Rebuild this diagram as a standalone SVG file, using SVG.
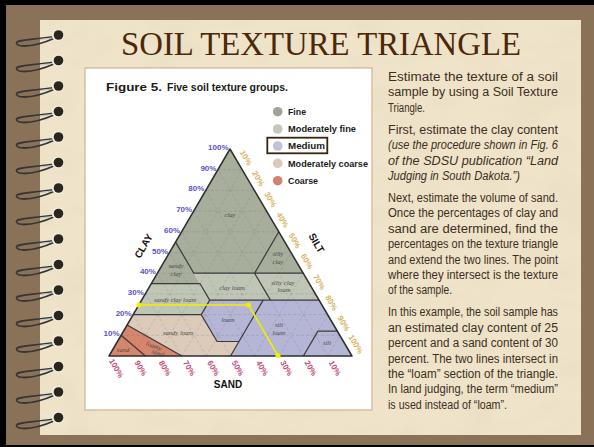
<svg xmlns="http://www.w3.org/2000/svg" xmlns:xlink="http://www.w3.org/1999/xlink" width="594" height="447" viewBox="0 0 594 447">
<style>
.body{font-family:"Liberation Sans","Arial",sans-serif;font-size:12.5px;fill:#3c2e22}
.it{font-style:italic}
.reg{font-family:"Liberation Serif","Times New Roman",serif;font-style:italic;font-size:6.5px;fill:#4a4a4a;text-anchor:middle}
.cl{font-family:"Liberation Sans",sans-serif;font-weight:bold;font-size:8px;fill:#5b52c8;text-anchor:end}
.sd{font-family:"Liberation Sans",sans-serif;font-weight:bold;font-size:8px;fill:#c24c7a;text-anchor:middle}
.si{font-family:"Liberation Sans",sans-serif;font-weight:bold;font-size:8px;fill:#d9b25e;text-anchor:middle}
.ax{font-family:"Liberation Sans",sans-serif;font-weight:bold;font-size:10px;fill:#111;text-anchor:middle}
.lg{font-family:"Liberation Sans",sans-serif;font-weight:bold;font-size:9.5px;fill:#1a1a1a}
.bd{stroke:#3a3a3a;stroke-width:1.2;stroke-linejoin:round}
.fine{fill:#a7ae9c}.mfine{fill:#c0c6b6}.med{fill:#b5b5d5}.mcoarse{fill:#dccbbb}.coarse{fill:#d5866c}
.grid{stroke:#6d6d6d;stroke-opacity:0.4;stroke-width:0.6;stroke-dasharray:3 2;fill:none}
.yl{stroke:#f2ee00;stroke-width:1.6;fill:none}
</style>
<defs>
<filter id="paper" x="0" y="0" width="100%" height="100%">
<feTurbulence type="fractalNoise" baseFrequency="0.02 0.035" numOctaves="3" seed="4"/>
<feColorMatrix type="matrix" values="0 0 0 0 0.80  0 0 0 0 0.70  0 0 0 0 0.52  1.3 0 0 0 -0.55"/>
</filter>
<g id="ring">
<path d="M -4 2 C -14 3, -28 4, -38 6 C -44 7, -42 11, -34 11 C -24 11, -12 7, -3 3" fill="none" stroke="#363636" stroke-width="1.8"/>
<path d="M -3 2.5 C -9 3.5, -14 4, -18 4.5" fill="none" stroke="#b9c9d2" stroke-width="1.2"/>
<circle cx="0" cy="0" r="6.2" fill="#f3ecd8"/>
<circle cx="0.5" cy="0" r="4.8" fill="#2a2520"/>
</g>
</defs>

<g id="frame">
<rect x="0" y="0" width="594" height="447" fill="#8a7259"/>
<rect x="0" y="0" width="594" height="5" fill="#000"/>
<rect x="0" y="0" width="6" height="447" fill="#000"/>
<rect x="0" y="445" width="594" height="2" fill="#000"/>
<rect x="40" y="20" width="541" height="415" fill="#efe4ca"/>
<rect x="40" y="20" width="541" height="415" fill="#000" filter="url(#paper)"/>
</g>

<g id="rings" transform="translate(58,0)">
<use xlink:href="#ring" y="35"/><use xlink:href="#ring" y="60.5"/><use xlink:href="#ring" y="86"/><use xlink:href="#ring" y="111.5"/>
<use xlink:href="#ring" y="137"/><use xlink:href="#ring" y="162.5"/><use xlink:href="#ring" y="188"/><use xlink:href="#ring" y="213.5"/>
<use xlink:href="#ring" y="239"/><use xlink:href="#ring" y="264.5"/><use xlink:href="#ring" y="290"/><use xlink:href="#ring" y="315.5"/>
<use xlink:href="#ring" y="341"/><use xlink:href="#ring" y="366.5"/><use xlink:href="#ring" y="392"/><use xlink:href="#ring" y="417.5"/>
</g>

<g id="title">
<text x="321" y="55" text-anchor="middle" font-family="Liberation Serif,'Times New Roman',serif" font-size="33" fill="#4a2808" textLength="400" lengthAdjust="spacingAndGlyphs">SOIL TEXTURE TRIANGLE</text>
</g>

<g id="figure">
<rect x="85" y="68" width="287" height="342" fill="#fff" stroke="#c9a77c" stroke-width="1"/>
<text x="106" y="90.5" font-family="Liberation Sans,Arial,sans-serif" font-weight="bold" font-size="10.5" fill="#1a1a1a"><tspan textLength="56" lengthAdjust="spacingAndGlyphs">Figure 5.</tspan><tspan x="167" textLength="121" lengthAdjust="spacingAndGlyphs">Five soil texture groups.</tspan></text>
</g>

<g id="legend">
<circle cx="277.7" cy="111.7" r="4.8" fill="#9ea596"/>
<text class="lg" x="288" y="115" textLength="18" lengthAdjust="spacingAndGlyphs">Fine</text>
<circle cx="277.7" cy="129" r="4.8" fill="#c4c7bc"/>
<text class="lg" x="288" y="132.3" textLength="68" lengthAdjust="spacingAndGlyphs">Moderately fine</text>
<rect x="267.3" y="137.7" width="60" height="15.6" fill="none" stroke="#3a2410" stroke-width="1.8"/>
<circle cx="277.7" cy="146" r="4.8" fill="#c1c1da"/>
<text class="lg" x="288" y="149.3" textLength="37" lengthAdjust="spacingAndGlyphs">Medium</text>
<circle cx="277.7" cy="163.3" r="4.8" fill="#d9c8bd"/>
<text class="lg" x="288" y="166.6" textLength="80" lengthAdjust="spacingAndGlyphs">Moderately coarse</text>
<circle cx="277.7" cy="180.7" r="4.8" fill="#d4836b"/>
<text class="lg" x="288" y="184" textLength="30" lengthAdjust="spacingAndGlyphs">Coarse</text>
</g>

<g id="triangle">
<g id="region-clay"><polygon class="fine" points="230,149 175.55,242.15 193.85,273.2 254.6,273.2 278.8,231.8"/></g>
<g id="region-sandy-clay"><polygon class="fine" points="175.55,242.15 151.35,283.55 199.95,283.55"/></g>
<g id="region-silty-clay"><polygon class="fine" points="278.8,231.8 254.6,273.2 303.2,273.2"/></g>
<g id="region-sandy-clay-loam"><polygon class="mfine" points="151.35,283.55 199.95,283.55 209.71,300.11 201.24,314.6 133.2,314.6"/></g>
<g id="region-clay-loam"><polygon class="mfine" points="193.85,273.2 254.6,273.2 270.46,300.11 209.71,300.11 199.95,283.55"/></g>
<g id="region-silty-clay-loam"><polygon class="mfine" points="254.6,273.2 303.2,273.2 319.06,300.11 270.46,300.11"/></g>
<g id="region-loam"><polygon class="med" points="209.71,300.11 263.17,300.11 238.97,341.51 217.1,341.51 201.24,314.6"/></g>
<g id="region-silt-loam"><polygon class="med" points="263.17,300.11 319.06,300.11 337.36,331.16 317.92,331.16 303.4,356 230.5,356 238.97,341.51"/></g>
<g id="region-silt"><polygon class="med" points="337.36,331.16 352,356 303.4,356 317.92,331.16"/></g>
<g id="region-sandy-loam"><polygon class="mcoarse" points="201.24,314.6 133.2,314.6 127.15,324.95 181.9,356 230.5,356 238.97,341.51 217.1,341.51"/></g>
<g id="region-loamy-sand"><polygon class="coarse" points="127.15,324.95 121.1,335.3 145.45,356 181.9,356"/></g>
<g id="region-sand"><polygon class="coarse" points="109,356 121.1,335.3 145.45,356"/></g>

<path class="grid" d="M121.1 335.3H339.8M133.2 314.6H327.6M145.3 293.9H315.4M157.4 273.2H303.2M169.5 252.5H291M181.6 231.8H278.8M193.7 211.1H266.6M205.8 190.4H254.4M217.9 169.7H242.2
M327.7 356L217.9 169.7M303.4 356L205.8 190.4M279.1 356L193.7 211.1M254.8 356L181.6 231.8M230.5 356L169.5 252.5M206.2 356L157.4 273.2M181.9 356L145.3 293.9M157.6 356L133.2 314.6M133.3 356L121.1 335.3
M133.3 356L242.2 169.7M157.6 356L254.4 190.4M181.9 356L266.6 211.1M206.2 356L278.8 231.8M230.5 356L291 252.5M254.8 356L303.2 273.2M279.1 356L315.4 293.9M303.4 356L327.6 314.6M327.7 356L339.8 335.3"/>

<path class="bd" fill="none" d="M175.55 242.15L193.85 273.2H303.2M254.6 273.2L278.8 231.8M151.35 283.55H199.95L209.71 300.11H319.06M209.71 300.11L201.24 314.6H133.2M201.24 314.6L217.1 341.51H238.97L263.17 300.11M238.97 341.51L230.5 356M254.6 273.2L270.46 300.11M337.36 331.16H317.92L303.4 356M127.15 324.95L181.9 356M121.1 335.3L145.45 356"/>
<polygon points="230,149 109,356 352,356" fill="none" stroke="#2e2e2e" stroke-width="1.5" stroke-linejoin="round"/>

<text class="reg" x="230" y="217">clay</text>
<text class="reg" x="176" y="268">sandy</text><text class="reg" x="176" y="276">clay</text>
<text class="reg" x="278" y="256">silty</text><text class="reg" x="278" y="264">clay</text>
<text class="reg" x="232" y="290">clay loam</text>
<text class="reg" x="283" y="285">silty clay</text><text class="reg" x="284" y="292">loam</text>
<text class="reg" x="175" y="302">sandy clay loam</text>
<text class="reg" x="228" y="322">loam</text>
<text class="reg" x="279" y="327">silt</text><text class="reg" x="279" y="335">loam</text>
<text class="reg" x="178" y="335">sandy loam</text>
<text class="reg" x="327" y="345">silt</text>
<text class="reg" x="123" y="352">sand</text>
<text class="reg" x="153" y="348" transform="rotate(20 153 348)">loamy</text><text class="reg" x="157" y="355" transform="rotate(20 157 355)">sand</text>

<g id="clay-scale">
<text class="cl" x="119.6" y="336.3">10%</text>
<text class="cl" x="131.7" y="315.6">20%</text>
<text class="cl" x="143.8" y="294.9">30%</text>
<text class="cl" x="155.9" y="274.2">40%</text>
<text class="cl" x="168" y="253.5">50%</text>
<text class="cl" x="180.1" y="232.8">60%</text>
<text class="cl" x="192.2" y="212.1">70%</text>
<text class="cl" x="204.3" y="191.4">80%</text>
<text class="cl" x="216.4" y="170.7">90%</text>
<text class="cl" x="228.5" y="150">100%</text>
</g>
<g id="sand-scale">
<text class="sd" transform="translate(116.5,368) rotate(60)" y="3">100%</text>
<text class="sd" transform="translate(140.8,368) rotate(60)" y="3">90%</text>
<text class="sd" transform="translate(165.1,368) rotate(60)" y="3">80%</text>
<text class="sd" transform="translate(189.4,368) rotate(60)" y="3">70%</text>
<text class="sd" transform="translate(213.7,368) rotate(60)" y="3">60%</text>
<text class="sd" transform="translate(238,368) rotate(60)" y="3">50%</text>
<text class="sd" transform="translate(262.3,368) rotate(60)" y="3">40%</text>
<text class="sd" transform="translate(286.6,368) rotate(60)" y="3">30%</text>
<text class="sd" transform="translate(310.9,368) rotate(60)" y="3">20%</text>
<text class="sd" transform="translate(335.2,368) rotate(60)" y="3">10%</text>
</g>
<g id="silt-scale">
<text class="si" transform="translate(246.2,157.7) rotate(60)" y="3">10%</text>
<text class="si" transform="translate(258.4,178.4) rotate(60)" y="3">20%</text>
<text class="si" transform="translate(270.6,199.1) rotate(60)" y="3">30%</text>
<text class="si" transform="translate(282.8,219.8) rotate(60)" y="3">40%</text>
<text class="si" transform="translate(295,240.5) rotate(60)" y="3">50%</text>
<text class="si" transform="translate(307.2,261.2) rotate(60)" y="3">60%</text>
<text class="si" transform="translate(319.4,281.9) rotate(60)" y="3">70%</text>
<text class="si" transform="translate(331.6,302.6) rotate(60)" y="3">80%</text>
<text class="si" transform="translate(343.8,323.3) rotate(60)" y="3">90%</text>
<text class="si" transform="translate(356,344) rotate(60)" y="3">100%</text>
</g>
<text class="ax" transform="translate(143.5,246) rotate(-59.7)" y="3.5">CLAY</text>
<text class="ax" transform="translate(316.5,243) rotate(59.7)" y="3.5">SILT</text>
<text class="ax" x="228" y="387.5">SAND</text>
</g>

<g id="connectors">
<polyline class="yl" points="139,305 248.5,305 278,355.5"/>
<circle cx="139" cy="305" r="2.6" fill="#f2ee00"/>
<circle cx="248.5" cy="305" r="2.6" fill="#f2ee00"/>
<circle cx="278" cy="355.5" r="2.6" fill="#f2ee00"/>
</g>

<g id="text-body" class="body">
<text x="388" y="81" textLength="170" lengthAdjust="spacingAndGlyphs">Estimate the texture of a soil</text>
<text x="388" y="96.4" textLength="170" lengthAdjust="spacingAndGlyphs">sample by using a Soil Texture</text>
<text x="388" y="111.8" textLength="37" lengthAdjust="spacingAndGlyphs">Triangle.</text>
<text x="388" y="133.8" textLength="170" lengthAdjust="spacingAndGlyphs">First, estimate the clay content</text>
<text class="it" x="388" y="149.2" textLength="170" lengthAdjust="spacingAndGlyphs">(use the procedure shown in Fig. 6</text>
<text class="it" x="388" y="164.6" textLength="170" lengthAdjust="spacingAndGlyphs">of the SDSU publication “Land</text>
<text class="it" x="388" y="180" textLength="132" lengthAdjust="spacingAndGlyphs">Judging in South Dakota.”)</text>
<text x="388" y="202" textLength="170" lengthAdjust="spacingAndGlyphs">Next, estimate the volume of  sand.</text>
<text x="388" y="217.4" textLength="170" lengthAdjust="spacingAndGlyphs">Once the percentages of clay and</text>
<text x="388" y="232.8" textLength="170" lengthAdjust="spacingAndGlyphs">sand are determined, find the</text>
<text x="388" y="248.2" textLength="170" lengthAdjust="spacingAndGlyphs">percentages on the texture triangle</text>
<text x="388" y="263.6" textLength="170" lengthAdjust="spacingAndGlyphs">and extend the two lines.  The point</text>
<text x="388" y="279" textLength="170" lengthAdjust="spacingAndGlyphs">where they intersect is the texture</text>
<text x="388" y="294.4" textLength="64" lengthAdjust="spacingAndGlyphs">of the sample.</text>
<text x="388" y="316.4" textLength="170" lengthAdjust="spacingAndGlyphs">In this example, the soil sample has</text>
<text x="388" y="331.8" textLength="170" lengthAdjust="spacingAndGlyphs">an estimated clay content of 25</text>
<text x="388" y="347.2" textLength="170" lengthAdjust="spacingAndGlyphs">percent and a sand content of 30</text>
<text x="388" y="362.6" textLength="170" lengthAdjust="spacingAndGlyphs">percent.  The two lines intersect in</text>
<text x="388" y="378" textLength="170" lengthAdjust="spacingAndGlyphs">the “loam” section of the triangle.</text>
<text x="388" y="393.4" textLength="170" lengthAdjust="spacingAndGlyphs">In land judging, the term “medium”</text>
<text x="388" y="408.8" textLength="119" lengthAdjust="spacingAndGlyphs">is used instead of “loam”.</text>
</g>
</svg>
